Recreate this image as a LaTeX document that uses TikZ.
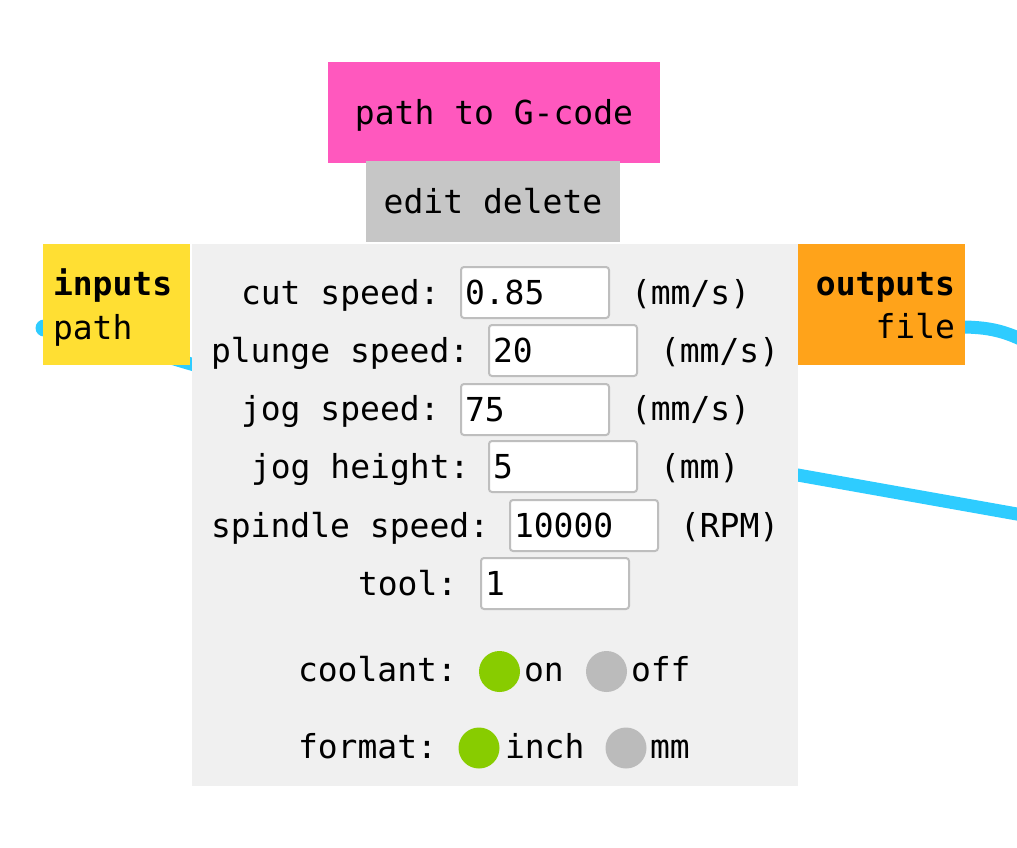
\documentclass[tikz,border=0pt]{standalone}
\usepackage{fontspec}
\setmonofont{DejaVu Sans Mono}
\definecolor{titlepink}{RGB}{255,88,190}
\definecolor{btngray}{RGB}{198,198,198}
\definecolor{panelgray}{RGB}{240,240,240}
\definecolor{inyellow}{RGB}{255,223,51}
\definecolor{outorange}{RGB}{255,163,26}
\definecolor{wirecyan}{RGB}{46,204,255}
\definecolor{fieldgray}{RGB}{190,190,190}
\definecolor{radiogreen}{RGB}{136,204,0}
\definecolor{radiogray}{RGB}{187,187,187}
\begin{document}
\begin{tikzpicture}[x=1pt,y=-1pt,
  every node/.style={font=\fontsize{33}{40}\selectfont\ttfamily},
  box/.style={rectangle, inner sep=0pt, outer sep=0pt, draw=none},
  lbl/.style={box, text height=23pt, text depth=0pt},
  txt/.style={inner sep=0pt, outer sep=0pt, anchor=base west},
  field/.style={rectangle, rounded corners=3pt, fill=white, draw=fieldgray, line width=2pt,
    inner xsep=4pt, inner ysep=0pt, outer sep=0pt, text width=140pt, align=left,
    minimum height=51pt, text height=23pt, text depth=0pt, anchor=north west},
  radio/.style={circle, inner sep=0pt, outer sep=0pt, minimum size=41pt},
  wire/.style={draw=wirecyan, line width=13pt}
]
\useasboundingbox[fill=white] (0,0) rectangle (1017,847);

% wires (behind everything)
\coordinate (indot) at (44,328);
\coordinate (inbend) at (230,374);
\coordinate (inend) at (1045,519);
\coordinate (outport) at (960,327);
\coordinate (outend) at (1045,352);
\draw[wire] (indot) .. controls (100,328) and (150,356) .. (inbend) -- (inend);
\fill[wirecyan] (indot) circle (8.5pt);
\draw[wire] (outport) .. controls (995,327) and (1012,333) .. (outend);

% module header
\node[lbl, fill=titlepink, minimum width=332pt, minimum height=101pt] (title) at (494,112.5) {path to G-code};
\node[lbl, fill=btngray, minimum width=254pt, minimum height=81pt] (btns) at (493,201.5) {edit delete};

% panel
\node[box, fill=panelgray, minimum width=606pt, minimum height=542pt, anchor=north west] (panel) at (192,244) {};

% inputs / outputs
\node[box, fill=inyellow, minimum width=147pt, minimum height=121pt, anchor=north west] (inputs) at (43,244) {};
\node[txt, font=\fontsize{33}{40}\selectfont\ttfamily\bfseries] (intitle) at (53,295) {inputs};
\node[txt] (inpath) at (53,339) {path};
\node[box, fill=outorange, minimum width=167pt, minimum height=121pt, anchor=north west] (outputs) at (798,244) {};
\node[txt, anchor=base east, font=\fontsize{33}{40}\selectfont\ttfamily\bfseries] (outtitle) at (955,295) {outputs};
\node[txt, anchor=base east] (outfile) at (955,338) {file};

% rows
\node[txt] (l1) at (241,304) {cut speed:};
\node[field] (f1) at (461,267) {0.85};
\node[txt] (u1) at (631,304) {(mm/s)};

\node[txt] (l2) at (211,362) {plunge speed:};
\node[field] (f2) at (489,325) {20};
\node[txt] (u2) at (660,362) {(mm/s)};

\node[txt] (l3) at (241,420) {jog speed:};
\node[field] (f3) at (461,384) {75};
\node[txt] (u3) at (631,420) {(mm/s)};

\node[txt] (l4) at (251,478) {jog height:};
\node[field] (f4) at (489,441) {5};
\node[txt] (u4) at (660,478) {(mm)};

\node[txt] (l5) at (211,537) {spindle speed:};
\node[field] (f5) at (510,500) {10000};
\node[txt] (u5) at (680,537) {(RPM)};

\node[txt] (l6) at (358,595) {tool:};
\node[field] (f6) at (481,558) {1};

% radios
\node[txt] (lcool) at (298,681) {coolant:};
\node[radio, fill=radiogreen] (coolon) at (499.5,671.5) {};
\node[txt] (coolontxt) at (524,681) {on};
\node[radio, fill=radiogray] (cooloff) at (606.5,671.5) {};
\node[txt] (coolofftxt) at (631,681) {off};

\node[txt] (lfmt) at (298,758) {format:};
\node[radio, fill=radiogreen] (fmtinch) at (479,748) {};
\node[txt] (fmtinchtxt) at (505,758) {inch};
\node[radio, fill=radiogray] (fmtmm) at (626,748) {};
\node[txt] (fmtmmtxt) at (650,758) {mm};
\end{tikzpicture}
\end{document}
